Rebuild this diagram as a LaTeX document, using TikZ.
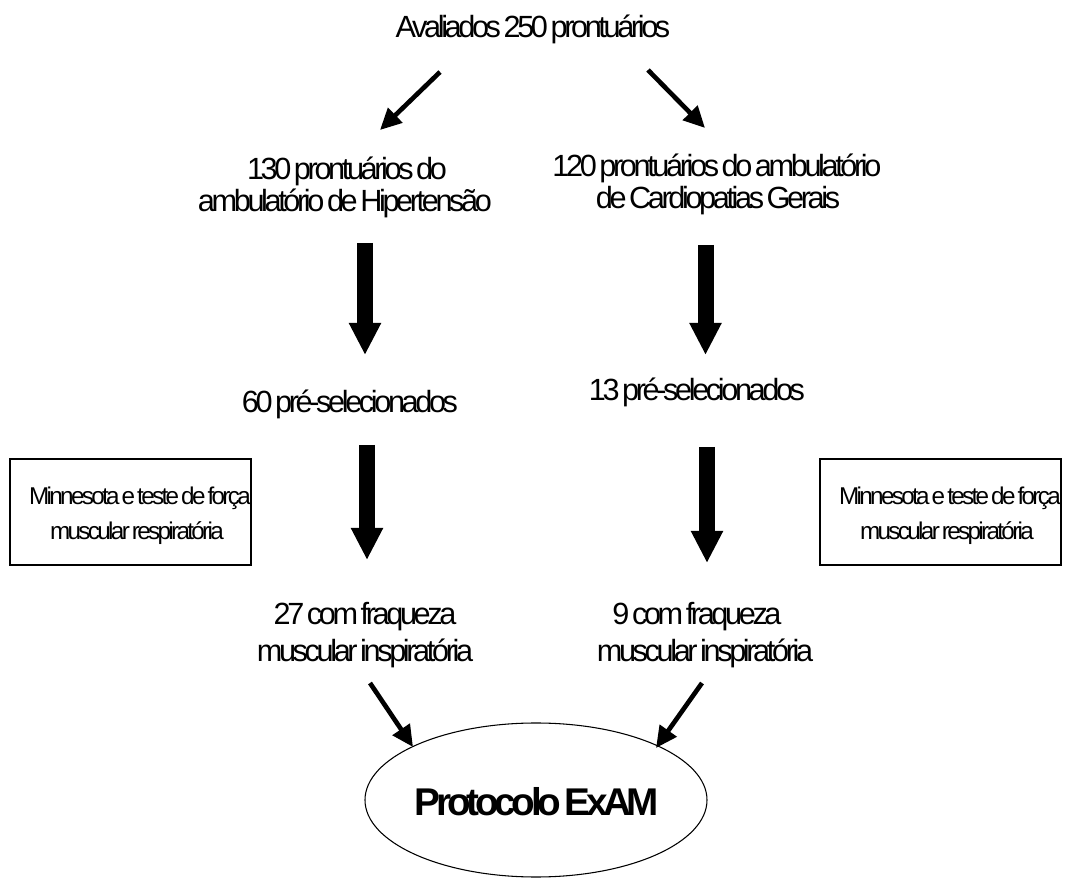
\documentclass[tikz,border=0pt]{standalone}
\usepackage{fontspec}
\setmainfont{Liberation Sans}
\newfontfamily\condf[LetterSpace=-11,WordSpace=0.5]{Liberation Sans}
\newfontfamily\condb[LetterSpace=-11,WordSpace=0.5]{Liberation Sans Bold}
\usetikzlibrary{arrows.meta,shapes.geometric}
\begin{document}
\begin{tikzpicture}[x=0.75pt,y=-0.75pt,
  lbl/.style={inner sep=0pt,anchor=base,font=\condf\fontsize{23}{27}\selectfont},
  small/.style={inner sep=0pt,anchor=base,font=\condf\fontsize{18.2}{21}\selectfont},
  bigarrow/.style={line width=12pt,-{Triangle[width=22.5pt,length=24pt]}},
  thinarrow/.style={line width=3.5pt,-{Triangle[width=15pt,length=16pt]}},
  framebox/.style={draw,line width=1pt,inner sep=0pt,minimum width=180.75pt,minimum height=79.5pt},
  oval/.style={draw,ellipse,line width=0.8pt,inner sep=0pt,minimum width=256.5pt,minimum height=115.5pt}
]
\useasboundingbox (0,0) rectangle (1065,880);

% texts
\node[lbl] (top) at (533,38) {Avaliados 250 prontuários};
\node[lbl] (la) at (347,180) {130 prontuários do};
\node[lbl] (lb) at (345,212) {ambulatório de Hipertensão};
\node[lbl] (ra) at (717,177) {120 prontuários do ambulatório};
\node[lbl] (rb) at (718,209) {de Cardiopatias Gerais};
\node[lbl] (lsel) at (350,413) {60 pré-selecionados};
\node[lbl] (rsel) at (697,401) {13 pré-selecionados};
\node[lbl] (lfa) at (365,624) {27 com fraqueza};
\node[lbl] (lfb) at (365,662) {muscular inspiratória};
\node[lbl] (rfa) at (697,624) {9 com fraqueza};
\node[lbl] (rfb) at (705,662) {muscular inspiratória};

% boxes
\node[framebox] (lbox) at (130.5,512) {};
\node[framebox] (rbox) at (940.5,512) {};
\node[small] (lbt1) at (140,505) {Minnesota e teste de força};
\node[small] (lbt2) at (137,540) {muscular respiratória};
\node[small] (rbt1) at (950,505) {Minnesota e teste de força};
\node[small] (rbt2) at (947,540) {muscular respiratória};

% ellipse
\node[oval] (exam) at (536,800) {};
\node[inner sep=0pt,anchor=base,font=\condb\fontsize{29}{32}\selectfont] (examt) at (537,815) {Protocolo ExAM};

% arrow end points
\coordinate (t1s) at (440,72);  \coordinate (t1e) at (380,130);
\coordinate (t2s) at (648,70);  \coordinate (t2e) at (705,128);
\coordinate (a1s) at (365,243); \coordinate (a1e) at (365,355);
\coordinate (a2s) at (705.5,245); \coordinate (a2e) at (705.5,355);
\coordinate (b1s) at (367,445); \coordinate (b1e) at (367,560);
\coordinate (b2s) at (707,447); \coordinate (b2e) at (707,563);
\coordinate (c1s) at (370,683); \coordinate (c1e) at (413,747);
\coordinate (c2s) at (702,683); \coordinate (c2e) at (656,748);

\draw[thinarrow] (t1s) -- (t1e);
\draw[thinarrow] (t2s) -- (t2e);
\draw[bigarrow] (a1s) -- (a1e);
\draw[bigarrow] (a2s) -- (a2e);
\draw[bigarrow] (b1s) -- (b1e);
\draw[bigarrow] (b2s) -- (b2e);
\draw[thinarrow] (c1s) -- (c1e);
\draw[thinarrow] (c2s) -- (c2e);
\end{tikzpicture}
\end{document}
